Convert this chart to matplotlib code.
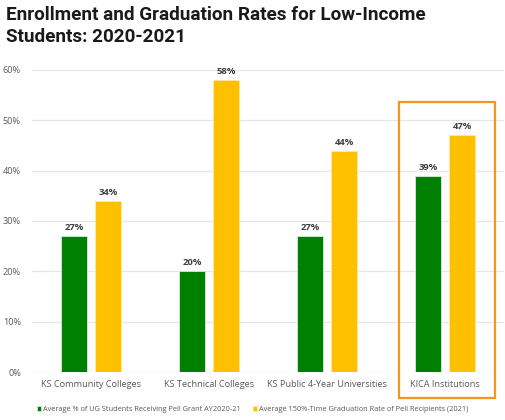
import numpy as np
import matplotlib.pyplot as plt
from matplotlib.patches import Rectangle

categories = ['KS Community Colleges', 'KS Technical Colleges',
              'KS Public 4-Year Universities', 'KICA Institutions']
pell_share = [27, 20, 27, 39]
grad_rate = [34, 58, 44, 47]
series_names = ['Average % of UG Students Receiving Pell Grant AY2020-21',
                'Average 150%-Time Graduation Rate of Pell Recipients (2021)']

green = '#008000'
yellow = '#FFC000'
orange = '#F7941D'

plt.rcParams['font.family'] = ['Open Sans', 'DejaVu Sans']

fig = plt.figure(figsize=(5.06, 4.2), dpi=100)
ax = fig.add_axes([32 / 506, 48 / 420, 472 / 506, 302 / 420])

x = np.arange(len(categories))
w = 0.225
off = 0.145
b1 = ax.bar(x - off, [v / 100 for v in pell_share], w, color=green,
            edgecolor='#d8ecd8', linewidth=0.6, label=series_names[0], zorder=3)
b2 = ax.bar(x + off, [v / 100 for v in grad_rate], w, color=yellow,
            edgecolor='#ffe9a0', linewidth=0.6, label=series_names[1], zorder=3)

for bars, vals in ((b1, pell_share), (b2, grad_rate)):
    for r, v in zip(bars, vals):
        ax.text(r.get_x() + r.get_width() / 2, r.get_height() + 0.008, f'{v}%',
                ha='center', va='bottom', fontsize=6.8, fontweight='bold',
                color='#404040')

ax.set_xlim(-0.5, len(categories) - 0.5)
ax.set_ylim(0, 0.6)
ax.set_yticks(np.arange(0, 0.61, 0.1))
ax.set_yticklabels([f'{int(round(t * 100))}%' for t in np.arange(0, 0.61, 0.1)])
ax.set_xticks(x)
ax.set_xticklabels(categories)
ax.tick_params(axis='both', length=0, labelsize=6.6, colors='#595959')
ax.tick_params(axis='x', pad=6)
ax.tick_params(axis='y', pad=8)
ax.grid(axis='y', color='#e6e6e6', linewidth=0.9, zorder=0)
for s in ax.spines.values():
    s.set_visible(False)

fig.legend(handles=[b1, b2], labels=series_names, loc='lower left',
           bbox_to_anchor=(30 / 506, 0.0), ncol=2, frameon=False,
           fontsize=5.3, handlelength=0.6, handleheight=0.6,
           handletextpad=0.3, columnspacing=1.6, labelcolor='#595959')

# orange highlight box around KICA group
fig.add_artist(Rectangle((399 / 506, 1 - 398 / 420), 96 / 506, 296 / 420,
                         transform=fig.transFigure, fill=False,
                         edgecolor=orange, linewidth=1.6))

fig.text(6 / 506, 1 - 6 / 420,
         'Enrollment and Graduation Rates for Low-Income\nStudents: 2020-2021',
         ha='left', va='top', fontsize=13.6, fontweight='bold',
         family=['Roboto', 'DejaVu Sans'], color='#1a1a1a', linespacing=1.25)

fig.savefig('out.png', dpi=100)
